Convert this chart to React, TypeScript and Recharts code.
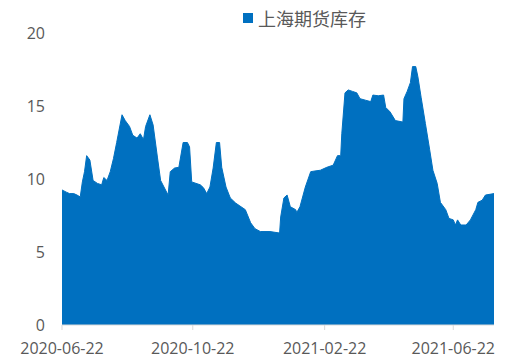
import React from 'react';
import { AreaChart, Area, XAxis, YAxis } from 'recharts';

// 上海期货库存 (readings, by date)
const dates = [
  '2020-06-22', '2020-06-26', '2020-06-29', '2020-07-03', '2020-07-06', '2020-07-09', '2020-07-11',
  '2020-07-13', '2020-07-15', '2020-07-18', '2020-07-21', '2020-07-25', '2020-07-29', '2020-07-31',
  '2020-08-03', '2020-08-06', '2020-08-09', '2020-08-12', '2020-08-17', '2020-08-20', '2020-08-24',
  '2020-08-27', '2020-08-31', '2020-09-03', '2020-09-06', '2020-09-08', '2020-09-12', '2020-09-15',
  '2020-09-19', '2020-09-22', '2020-09-29', '2020-10-01', '2020-10-05', '2020-10-09', '2020-10-13',
  '2020-10-17', '2020-10-19', '2020-10-21', '2020-10-29', '2020-11-01', '2020-11-04', '2020-11-07',
  '2020-11-10', '2020-11-13', '2020-11-16', '2020-11-18', '2020-11-22', '2020-11-26', '2020-12-01',
  '2020-12-05', '2020-12-10', '2020-12-15', '2020-12-19', '2020-12-24', '2021-01-02', '2021-01-11',
  '2021-01-12', '2021-01-15', '2021-01-18', '2021-01-21', '2021-01-26', '2021-01-27', '2021-01-30',
  '2021-02-04', '2021-02-09', '2021-02-13', '2021-02-18', '2021-02-24', '2021-03-02', '2021-03-06',
  '2021-03-09', '2021-03-10', '2021-03-13', '2021-03-16', '2021-03-20', '2021-03-24', '2021-03-27',
  '2021-04-01', '2021-04-06', '2021-04-08', '2021-04-13', '2021-04-18', '2021-04-20', '2021-04-24',
  '2021-04-29', '2021-05-06', '2021-05-07', '2021-05-10', '2021-05-13', '2021-05-15', '2021-05-18',
  '2021-05-20', '2021-05-23', '2021-05-27', '2021-05-31', '2021-06-03', '2021-06-07', '2021-06-10',
  '2021-06-15', '2021-06-18', '2021-06-22', '2021-06-24', '2021-06-26', '2021-06-29', '2021-07-04',
  '2021-07-08', '2021-07-13', '2021-07-15', '2021-07-19', '2021-07-22', '2021-07-30',
];

const inventory = [
  9.25, 9.1, 9.0, 9.0, 8.9, 8.77, 9.8,
  10.5, 11.6, 11.3, 9.9, 9.7, 9.6, 10.1,
  9.9, 10.5, 11.4, 12.5, 14.4, 14.0, 13.6,
  13.0, 12.8, 13.1, 12.7, 13.6, 14.4, 13.7,
  11.5, 9.9, 8.9, 10.5, 10.75, 10.8, 12.5,
  12.5, 12.2, 9.8, 9.6, 9.4, 9.0, 9.45,
  10.75, 12.5, 12.5, 10.8, 9.45, 8.7, 8.35,
  8.15, 7.9, 7.0, 6.6, 6.4, 6.4, 6.3,
  7.4, 8.7, 8.9, 8.1, 7.9, 7.7, 8.1,
  9.45, 10.5, 10.55, 10.6, 10.8, 10.95, 11.6,
  11.6, 13.1, 15.9, 16.1, 16.0, 15.9, 15.5,
  15.4, 15.3, 15.75, 15.7, 15.75, 14.9, 14.6,
  14.0, 13.9, 15.5, 16.0, 16.6, 17.7, 17.7,
  17.0, 15.6, 13.8, 12.0, 10.6, 9.7, 8.4,
  7.9, 7.3, 7.2, 6.85, 7.2, 6.85, 6.85,
  7.2, 7.9, 8.4, 8.55, 8.9, 9.0,
];

const xTickLabels = ['2020-06-22', '2020-10-22', '2021-02-22', '2021-06-22'];
const yTicks = [0, 5, 10, 15, 20];

const seriesName = '上海期货库存';
const BLUE = '#0070C0';
const GRAY = '#595959';
const FONT = '"Open Sans", "Noto Sans CJK SC", sans-serif';

const data = dates.map((d, i) => ({ t: Date.parse(d), value: inventory[i] }));
const xTicks = xTickLabels.map((d) => Date.parse(d));

const formatDate = (t: number) => new Date(t).toISOString().slice(0, 10);

export default function App() {
  return (
    <div style={{ position: 'absolute', left: 0, top: 0, width: 505, height: 362, background: '#fff' }}>
      {/* legend sits above the plot, drawn by hand so it does not push the plot down */}
      <div
        style={{
          position: 'absolute',
          left: 243,
          top: 6,
          display: 'flex',
          alignItems: 'center',
          fontFamily: '"Noto Sans CJK SC", sans-serif',
          fontSize: 18,
          color: GRAY,
          lineHeight: '24px',
        }}
      >
        <span style={{ width: 10, height: 10, background: BLUE, display: 'inline-block', marginRight: 5 }} />
        <span>{seriesName}</span>
      </div>
      <AreaChart width={505} height={362} data={data} margin={{ top: 33, right: 11, bottom: 3, left: 0 }}>
        <XAxis
          dataKey="t"
          type="number"
          scale="time"
          domain={['dataMin', 'dataMax']}
          ticks={xTicks}
          interval={0}
          tickFormatter={formatDate}
          height={34}
          axisLine={{ stroke: '#D9D9D9' }}
          tickLine={{ stroke: '#D9D9D9' }}
          tickSize={5}
          tickMargin={13}
          tick={{ fill: GRAY, fontSize: 16, fontFamily: FONT }}
        />
        <YAxis
          domain={[0, 20]}
          ticks={yTicks}
          interval={0}
          width={62}
          axisLine={false}
          tickLine={false}
          tickSize={0}
          tickMargin={17}
          tick={{ fill: GRAY, fontSize: 16, fontFamily: FONT }}
        />
        <Area
          type="linear"
          dataKey="value"
          name={seriesName}
          stroke={BLUE}
          strokeWidth={1}
          fill={BLUE}
          fillOpacity={1}
          dot={false}
          activeDot={false}
          isAnimationActive={false}
        />
      </AreaChart>
    </div>
  );
}
